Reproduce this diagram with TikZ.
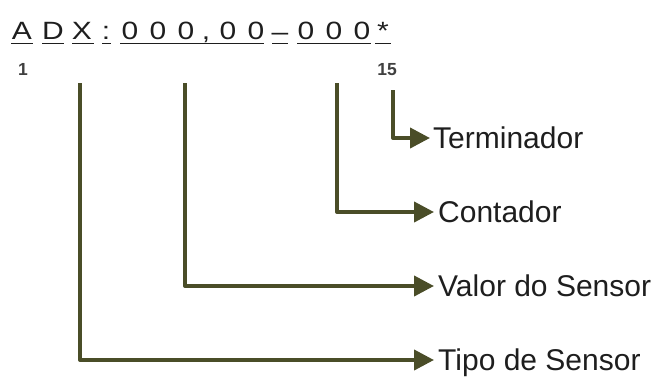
\documentclass[tikz,border=0pt]{standalone}
\usepackage{fontspec}
\setmainfont{Liberation Sans}
\usetikzlibrary{arrows.meta}
\definecolor{lineolive}{RGB}{74,77,40}
\definecolor{textdark}{RGB}{30,30,30}
\newcommand{\wideglyph}[1]{\scalebox{1.2}[1]{#1}}
\begin{document}
\begin{tikzpicture}[x=1pt,y=-1pt,
  conn/.style={draw=lineolive, line width=4pt, line join=round, -{Triangle[length=20pt,width=20pt]}},
  lbl/.style={anchor=west, inner sep=0pt, font=\fontsize{30}{30}\selectfont, text height=21.5pt, text depth=0pt, text=textdark},
  ch/.style={anchor=base, inner sep=0pt, font=\fontsize{25}{25}\selectfont, text=textdark},
  ul/.style={draw=textdark, line width=1.8pt},
  idx/.style={anchor=base, inner sep=0pt, font=\bfseries\fontsize{17.5}{17.5}\selectfont, text=textdark!85}]
\useasboundingbox (0,0) rectangle (670,378);
% top characters
\node[ch] (c1) at (22,39) {\wideglyph{A}};
\node[ch] (c2) at (53,39) {\wideglyph{D}};
\node[ch] (c3) at (82,39) {\wideglyph{X}};
\node[ch] (c4) at (106,39) {\wideglyph{:}};
\node[ch] (c5) at (130,39) {\wideglyph{0}};
\node[ch] (c6) at (158,39) {\wideglyph{0}};
\node[ch] (c7) at (186,39) {\wideglyph{0}};
\node[ch] (c8) at (206,39) {\wideglyph{,}};
\node[ch] (c9) at (228,39) {\wideglyph{0}};
\node[ch] (c10) at (256,39) {\wideglyph{0}};
\node[ch] (c11) at (280,40.5) {\wideglyph{–}};
\node[ch] (c12) at (306,39) {\wideglyph{0}};
\node[ch] (c13) at (334,39) {\wideglyph{0}};
\node[ch] (c14) at (362,39) {\wideglyph{0}};
\node[ch] (c15) at (383,39) {\wideglyph{*}};
% underlines
\foreach \a/\b in {11/33,42/64,72/94,102/111,120/264,272/288,297/371,375/391}
  \draw[ul] (\a,43.5) -- (\b,43.5);
% indices
\node[idx] (i1) at (23,75) {1};
\node[idx] (i15) at (387,75) {15};
% line starts
\coordinate (sTipo) at (80,83);
\coordinate (sValor) at (185,83);
\coordinate (sCont) at (337,83);
\coordinate (sTerm) at (393,90);
% labels
\node[lbl] (term) at (433,138) {Terminador};
\node[lbl] (cont) at (438,212) {Contador};
\node[lbl] (valor) at (438,286) {Valor do Sensor};
\node[lbl] (tipo) at (438,360) {Tipo de Sensor};
% connectors
\draw[conn] (sTerm) |- ([xshift=-3pt]term.west);
\draw[conn] (sCont) |- ([xshift=-4pt]cont.west);
\draw[conn] (sValor) |- ([xshift=-4pt]valor.west);
\draw[conn] (sTipo) |- ([xshift=-4pt]tipo.west);
\end{tikzpicture}
\end{document}
